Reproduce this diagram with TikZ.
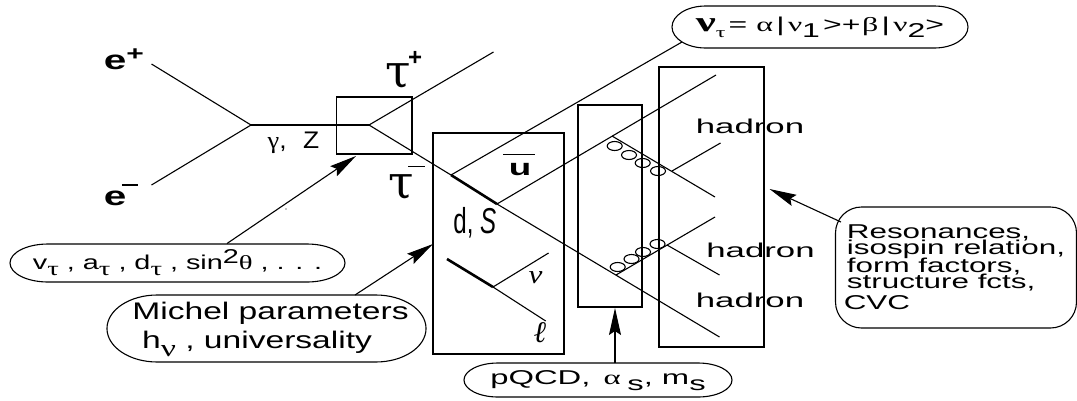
\documentclass[tikz,border=0pt]{standalone}
\usepackage{fontspec}
\usepackage{graphicx}
\setmainfont{Liberation Sans}
\newfontfamily\grk{Liberation Serif}
\newfontfamily\taufont{DejaVu Serif}
\usetikzlibrary{arrows.meta,shapes.geometric,shapes.misc}
\newcommand{\gk}[1]{{\grk #1}}
\newcommand{\lowsub}[2][.3em]{\raisebox{-#1}{#2}}
\newcommand{\squeeze}[2]{\makebox[0pt][c]{\scalebox{#1}[1]{\begin{tabular}{@{}l@{}}#2\end{tabular}}}}
\begin{document}
\begin{tikzpicture}[
  x=1pt, y=-1pt,
  line width=1.1pt,
  txt/.style={inner sep=0pt, anchor=base west, xscale=#1, transform shape},
  txt/.default=1,
  bubble/.style={draw, rounded rectangle, inner sep=0pt, xscale=#1, transform shape},
  roundbox/.style={draw, rounded corners=26pt, inner sep=0pt, align=left, xscale=1.57, transform shape},
  frame/.style={draw, rectangle, inner sep=0pt},
  gluon/.style={draw, ellipse, inner sep=0pt, minimum width=15pt, minimum height=9pt},
  arr/.style={-{Stealth[length=27pt, width=12pt, inset=4pt]}},
  heavy/.style={line width=2.6pt},
]
\useasboundingbox (0,0) rectangle (1077,400);
% vertices
\coordinate (eplus) at (151.5,64);
\coordinate (eminus) at (151.5,185);
\coordinate (vee) at (251,125);
\coordinate (vtau) at (369,125);
\coordinate (tauplus) at (493.5,52);
\coordinate (vnu) at (451,175);
\coordinate (vq) at (497,204);
\coordinate (qend) at (716,75);
\coordinate (dend) at (719.5,337);
\coordinate (gtop) at (612,136);
\coordinate (gtopend) at (715,197);
\coordinate (htop) at (672,171);
\coordinate (htopend) at (720.5,143);
\coordinate (gbot) at (616,275);
\coordinate (gbotend) at (715,217);
\coordinate (hbot) at (667,245);
\coordinate (hbotend) at (719.5,275);
\coordinate (lstart) at (447,259);
\coordinate (vl) at (493,287);
\coordinate (nuend) at (548.6,253);
\coordinate (lend) at (545.7,321);
% boxes
\node[frame, minimum width=75.5pt, minimum height=57pt] (boxT) at (374.25,125.5) {};
\node[frame, minimum width=131pt, minimum height=221pt] (boxL) at (498.5,243.5) {};
\node[frame, minimum width=64pt, minimum height=202pt] (boxQ) at (610,206) {};
\node[frame, minimum width=105pt, minimum height=280pt] (boxH) at (711.5,207) {};
% bubbles
\node[bubble=2, minimum width=167.5pt, minimum height=38pt, font=\fontsize{20}{22}\selectfont] (bubA) at (177.5,263)
  {\squeeze{.72}{v\lowsub{\gk{τ}} , a\lowsub{\gk{τ}} , d\lowsub{\gk{τ}} , sin\raisebox{.3em}{2}\gk{θ} , . . .}};
\node[bubble=1.5, minimum width=212.7pt, minimum height=67pt, font=\fontsize{24}{29}\selectfont] (bubB) at (266.5,328.5)
  {\squeeze{.933}{\hspace*{5.7pt}Michel parameters\\\hspace*{12.7pt}h\lowsub{\gk{ν}} , universality}};
\node[bubble=2, minimum width=134pt, minimum height=34pt, font=\fontsize{20}{22}\selectfont] (bubC) at (598,380)
  {\squeeze{.82}{pQCD,\hspace{8pt}\gk{α}\hspace{4pt}\lowsub{s}, m\lowsub{s}}};
\node[roundbox, minimum width=153.5pt, minimum height=121pt, font=\fontsize{20}{17}\selectfont] (bubD) at (956,267.5)
  {Resonances,\\[-2pt]isospin relation,\\[-2pt]form factors,\\[-2pt]structure fcts,\\[4pt]\hspace*{-2pt}CVC};
\node[bubble=1.6, minimum width=185pt, minimum height=42pt, font=\fontsize{20}{20}\selectfont] (bubV) at (820,27)
  {\squeeze{1}{{\grk\bfseries\fontsize{28}{28}\selectfont ν}\lowsub{\fontsize{15}{15}\selectfont\gk{τ}}\hspace{2pt}= \gk{α}\hspace{2pt}|\hspace{2pt}\gk{ν}\lowsub{1}\hspace{2pt}>+\hspace{1pt}\gk{β}\hspace{2pt}|\hspace{2pt}\gk{ν}\lowsub{2}>}};
% free ends on the outlines
\coordinate (bubAtop) at (227,243.5);
\coordinate (bubBtop) at (355,295);
\coordinate (bubCtop) at (615,363);
\coordinate (bubDleft) at (841,222);
\coordinate (bubVleft) at (682,42);
\coordinate (tipA) at (356,156);
\coordinate (tipB) at (433,244);
\coordinate (tipC) at (615,308);
\coordinate (tipD) at (769.5,189);
% diagram lines
\draw (eplus) -- (vee);
\draw (eminus) -- (vee);
\draw[heavy] (vee) -- (vtau);
\draw (vtau) -- (tauplus);
\draw (vtau) -- (vnu);
\draw (vnu) -- (bubVleft);
\draw[heavy] (vnu) -- (vq);
\draw (vq) -- (qend);
\draw (vq) -- (dend);
\draw (gtop) -- (gtopend);
\draw (htop) -- (htopend);
\draw (gbot) -- (gbotend);
\draw (hbot) -- (hbotend);
\draw[heavy] (lstart) -- (vl);
\draw (vl) -- (nuend);
\draw (vl) -- (lend);
\foreach \gx/\gy/\gname in {614.7/146/ga,629/155/gb,642.7/163/gc,658/171/gd,
                            617.7/267/ge,631.5/259/gf,643/252/gg,657.5/244/gh}
  \node[gluon] (\gname) at (\gx,\gy) {};
% arrows
\draw[arr] (bubAtop) -- (tipA);
\draw[arr] (bubBtop) -- (tipB);
\draw[arr] (bubCtop) -- (tipC);
\draw[arr] (bubDleft) -- (tipD);
\fill (286,209) circle (0.6pt);
% labels
\node[txt=1.5, font=\fontsize{27}{27}\selectfont\bfseries] (lblEp) at (103,69) {e\raisebox{9pt}{\fontsize{20}{20}\selectfont +}};
\node[txt=1.5, font=\fontsize{27}{27}\selectfont\bfseries] (lblEm) at (103,205) {e\hspace{-3pt}\raisebox{19.5pt}{\rule{11pt}{1.5pt}}};
\node[txt, font=\fontsize{46}{46}\selectfont\taufont] (lblTp) at (385,87) {τ\hspace{-3pt}\raisebox{22pt}{\fontsize{24}{24}\selectfont\bfseries\rmfamily +}};
\node[txt, font=\fontsize{46}{46}\selectfont\taufont] (lblTm) at (388,198) {τ\hspace{-6pt}\raisebox{31pt}{\rule{17pt}{1.5pt}}};
\node[txt=1.1, font=\fontsize{24}{24}\selectfont] (lblGZ) at (267,148) {\gk{γ},\hspace{15pt}Z};
\node[txt=1.6, font=\fontsize{23}{23}\selectfont\bfseries] (lblU) at (508,175) {u};
\node[draw=none, fill=black, inner sep=0pt, minimum width=32pt, minimum height=1.5pt] (barU) at (519,154.5) {};
\node[txt=.67, font=\fontsize{36}{36}\selectfont] (lblDS) at (453,233) {d, \textit{S}};
\node[txt=1.2, font=\fontsize{26}{26}\selectfont\grk\itshape] (lblNu) at (528,283) {ν};
\node[txt, font=\fontsize{30}{30}\selectfont\grk\itshape] (lblEll) at (533,342) {ℓ};
\node[txt=1.74, anchor=center, font=\fontsize{20}{20}\selectfont] (lblHa) at (750,126) {hadron};
\node[txt=1.74, anchor=center, font=\fontsize{20}{20}\selectfont] (lblHb) at (760.5,250) {hadron};
\node[txt=1.74, anchor=center, font=\fontsize{20}{20}\selectfont] (lblHc) at (750,300) {hadron};
\end{tikzpicture}
\end{document}
